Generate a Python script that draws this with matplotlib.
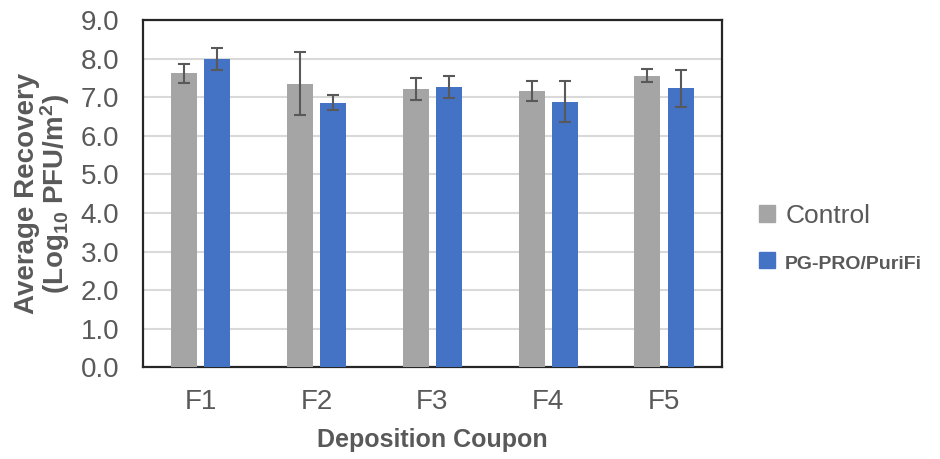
import numpy as np
import matplotlib
matplotlib.use("Agg")
import matplotlib.pyplot as plt
from matplotlib.patches import Patch

plt.rcParams["font.family"] = ["Liberation Sans", "DejaVu Sans"]
plt.rcParams["mathtext.default"] = "regular"

coupons = ["F1", "F2", "F3", "F4", "F5"]
control = [7.62, 7.35, 7.22, 7.17, 7.56]
control_err = [0.25, 0.82, 0.28, 0.26, 0.17]
pgpro = [8.00, 6.86, 7.26, 6.89, 7.23]
pgpro_err = [0.28, 0.20, 0.28, 0.53, 0.47]

GRAY = "#A5A5A5"; BLUE = "#4472C4"; TXT = "#595959"; ERR = "#595959"

fig = plt.figure(figsize=(9.4, 4.59), dpi=100)
ax = fig.add_axes([0.152, 0.200, 0.616, 0.756])

x = np.arange(len(coupons))
w = 0.225; off = 0.143
ekw = dict(ecolor=ERR, elinewidth=1.5, capsize=4, capthick=1.5)
ax.bar(x - off, control, w, yerr=control_err, color=GRAY, error_kw=ekw, zorder=3)
ax.bar(x + off, pgpro, w, yerr=pgpro_err, color=BLUE, error_kw=ekw, zorder=3)

ax.set_xlim(-0.5, 4.5)
ax.set_ylim(0, 9)
ax.set_yticks(np.arange(0, 9.1, 1.0))
ax.set_yticklabels([f"{v:.1f}" for v in np.arange(0, 9.1, 1.0)])
ax.set_xticks(x)
ax.set_xticklabels(coupons)
ax.tick_params(length=0, labelsize=20, labelcolor=TXT)
ax.tick_params(axis="y", pad=17)
ax.tick_params(axis="x", pad=16)
ax.grid(True, axis="y", color="#D9D9D9", linewidth=1.5, zorder=0)
for s in ax.spines.values():
    s.set_color("#262626"); s.set_linewidth(1.6)

ax.set_xlabel("Deposition Coupon", fontsize=18, fontweight="bold", color=TXT, labelpad=9)
ax.set_ylabel("Average Recovery\n(Log$_{10}$ PFU/m$^2$)", fontsize=20, fontweight="bold",
              color=TXT, linespacing=0.95, labelpad=6)

handles = [Patch(color=GRAY), Patch(color=BLUE)]
leg = fig.legend(handles, ["Control", "PG-PRO/PuriFi"], loc="center left",
                 bbox_to_anchor=(0.782, 0.48), frameon=False, fontsize=19,
                 handlelength=0.6, handleheight=0.6, handletextpad=0.4, labelspacing=0.9)
for t in leg.get_texts():
    t.set_color(TXT)
leg.get_texts()[1].set_fontsize(14)
leg.get_texts()[1].set_fontweight("bold")

fig.savefig("out.png", dpi=100)
